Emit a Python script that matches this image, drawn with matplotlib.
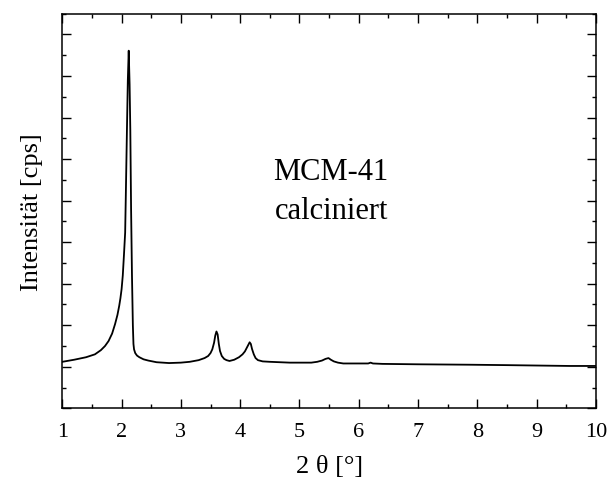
import matplotlib
matplotlib.use('Agg')
import matplotlib.pyplot as plt
from matplotlib.ticker import MultipleLocator

# values (arbitrary intensity units)
two_theta = [1.00, 1.20, 1.40, 1.55, 1.65, 1.72, 1.78, 1.84, 1.89, 1.93,
             1.96, 1.98, 2.00, 2.02, 2.04, 2.06, 2.07, 2.09, 2.105, 2.12,
             2.135, 2.147, 2.16, 2.175, 2.19, 2.20, 2.21, 2.23, 2.26, 2.30,
             2.37, 2.45, 2.59, 2.80, 3.00, 3.15, 3.30, 3.40, 3.46, 3.50,
             3.53, 3.56, 3.58, 3.60, 3.62, 3.64, 3.66, 3.69, 3.73, 3.77,
             3.82, 3.90, 3.98, 4.04, 4.08, 4.12, 4.16, 4.18, 4.20, 4.23,
             4.26, 4.30, 4.38, 4.50, 4.84, 5.20, 5.30, 5.38, 5.44, 5.49,
             5.53, 5.58, 5.65, 5.74, 6.00, 6.16, 6.20, 6.24, 6.40, 7.00,
             7.87, 8.50, 9.56, 10.0]
intensity = [1.12, 1.17, 1.23, 1.30, 1.40, 1.50, 1.62, 1.80, 2.03, 2.25,
             2.47, 2.65, 2.87, 3.20, 3.70, 4.23, 5.03, 6.70, 7.90, 8.61,
             7.80, 6.70, 4.80, 3.20, 2.00, 1.55, 1.42, 1.33, 1.27, 1.23,
             1.18, 1.15, 1.11, 1.09, 1.10, 1.12, 1.16, 1.21, 1.26, 1.33,
             1.42, 1.58, 1.75, 1.85, 1.78, 1.55, 1.38, 1.26, 1.19, 1.16,
             1.14, 1.17, 1.23, 1.30, 1.37, 1.48, 1.59, 1.55, 1.43, 1.30,
             1.21, 1.16, 1.13, 1.12, 1.10, 1.10, 1.12, 1.15, 1.19, 1.21,
             1.17, 1.13, 1.10, 1.08, 1.08, 1.08, 1.10, 1.08, 1.07, 1.06,
             1.05, 1.04, 1.02, 1.02]

plt.rcParams['font.family'] = ['Liberation Serif', 'DejaVu Serif']

fig = plt.figure(figsize=(6.08, 4.81), dpi=100)
ax = fig.add_axes([0.1025, 0.149, 0.8775, 0.8204])

ax.plot(two_theta, intensity, color='black', lw=1.3)

ax.set_xlim(1, 10)
ax.set_ylim(0, 9.5)
ax.xaxis.set_major_locator(MultipleLocator(1))
ax.xaxis.set_minor_locator(MultipleLocator(0.5))
ax.yaxis.set_major_locator(MultipleLocator(1))
ax.yaxis.set_minor_locator(MultipleLocator(0.5))
ax.tick_params(which='both', direction='in', top=True, right=True,
               width=1.0, labelsize=16, pad=10)
ax.tick_params(which='major', length=6.3)
ax.tick_params(which='minor', length=3.2)
ax.tick_params(axis='y', labelleft=False)
for s in ax.spines.values():
    s.set_linewidth(1.1)

ax.set_xlabel('2 θ [°]', fontsize=19, labelpad=10)
ax.set_ylabel('Intensität [cps]', fontsize=19, labelpad=4)

ax.text(0.504, 0.551, 'MCM-41\ncalciniert', transform=ax.transAxes,
        ha='center', va='center', multialignment='center',
        fontsize=22, linespacing=1.45)

fig.savefig('out.png', dpi=100)
